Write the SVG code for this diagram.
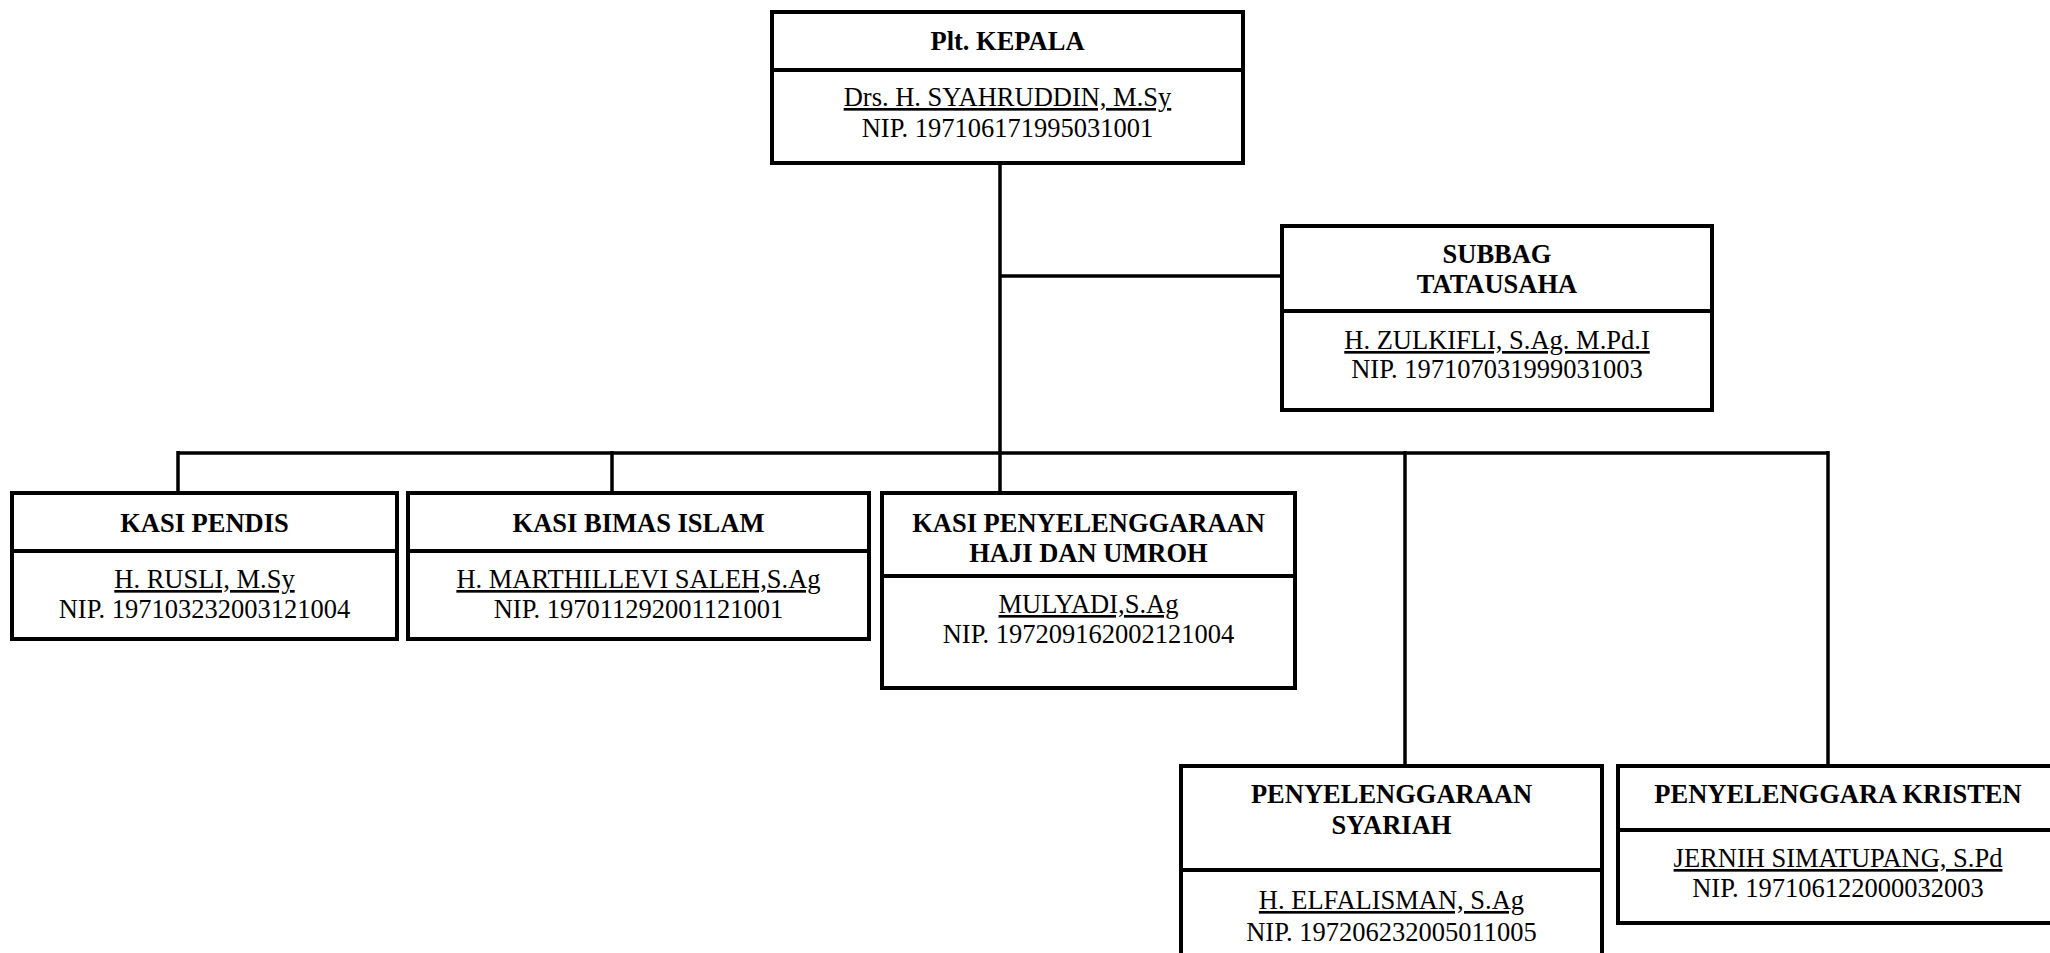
<svg xmlns="http://www.w3.org/2000/svg" width="2050" height="953" viewBox="0 0 2050 953">
<style>
.box{fill:#fff;stroke:#000;stroke-width:4}
.div{stroke:#000;stroke-width:4}
.con{stroke:#000;stroke-width:3.5;fill:none}
text{font-family:"Liberation Serif","Times New Roman",serif;font-size:26.5px;fill:#000;text-anchor:middle}
.t{font-weight:bold}
.u{text-decoration:underline}
</style>
<rect width="2050" height="953" fill="#fff"/>
<g id="connectors">
<line class="con" x1="1000" y1="163" x2="1000" y2="493"/>
<line class="con" x1="1000" y1="276" x2="1282" y2="276"/>
<line class="con" x1="178" y1="453" x2="1828" y2="453"/>
<line class="con" x1="178" y1="451" x2="178" y2="493"/>
<line class="con" x1="612" y1="451" x2="612" y2="493"/>
<line class="con" x1="1405" y1="451" x2="1405" y2="766"/>
<line class="con" x1="1828" y1="451" x2="1828" y2="766"/>
</g>
<g id="kepala">
<rect class="box" x="772" y="12" width="471" height="151"/>
<line class="div" x1="772" y1="70" x2="1243" y2="70"/>
<text class="t" x="1007.5" y="50">Plt. KEPALA</text>
<text class="u" x="1007.5" y="106">Drs. H. SYAHRUDDIN, M.Sy</text>
<text x="1007.5" y="137">NIP. 197106171995031001</text>
</g>
<g id="subbag">
<rect class="box" x="1282" y="226" width="430" height="184"/>
<line class="div" x1="1282" y1="311" x2="1712" y2="311"/>
<text class="t" x="1497" y="263">SUBBAG</text>
<text class="t" x="1497" y="293">TATAUSAHA</text>
<text class="u" x="1497" y="349">H. ZULKIFLI, S.Ag. M.Pd.I</text>
<text x="1497" y="378">NIP. 197107031999031003</text>
</g>
<g id="pendis">
<rect class="box" x="12" y="493" width="385" height="146"/>
<line class="div" x1="12" y1="551" x2="397" y2="551"/>
<text class="t" x="204.5" y="532">KASI PENDIS</text>
<text class="u" x="204.5" y="588">H. RUSLI, M.Sy</text>
<text x="204.5" y="618">NIP. 197103232003121004</text>
</g>
<g id="bimas">
<rect class="box" x="408" y="493" width="461" height="146"/>
<line class="div" x1="408" y1="551" x2="869" y2="551"/>
<text class="t" x="638.5" y="532">KASI BIMAS ISLAM</text>
<text class="u" x="638.5" y="588">H. MARTHILLEVI SALEH,S.Ag</text>
<text x="638.5" y="618">NIP. 197011292001121001</text>
</g>
<g id="haji">
<rect class="box" x="882" y="493" width="413" height="195"/>
<line class="div" x1="882" y1="576" x2="1295" y2="576"/>
<text class="t" x="1088.5" y="532">KASI PENYELENGGARAAN</text>
<text class="t" x="1088.5" y="562">HAJI DAN UMROH</text>
<text class="u" x="1088.5" y="613">MULYADI,S.Ag</text>
<text x="1088.5" y="643">NIP. 197209162002121004</text>
</g>
<g id="syariah">
<rect class="box" x="1181" y="766" width="421" height="200"/>
<line class="div" x1="1181" y1="870" x2="1602" y2="870"/>
<text class="t" x="1391.5" y="803">PENYELENGGARAAN</text>
<text class="t" x="1391.5" y="834">SYARIAH</text>
<text class="u" x="1391.5" y="909">H. ELFALISMAN, S.Ag</text>
<text x="1391.5" y="941">NIP. 197206232005011005</text>
</g>
<g id="kristen">
<rect class="box" x="1618" y="766" width="442" height="157"/>
<line class="div" x1="1618" y1="830" x2="2060" y2="830"/>
<text class="t" x="1838" y="803">PENYELENGGARA KRISTEN</text>
<text class="u" x="1838" y="867">JERNIH SIMATUPANG, S.Pd</text>
<text x="1838" y="897">NIP. 197106122000032003</text>
</g>
</svg>
